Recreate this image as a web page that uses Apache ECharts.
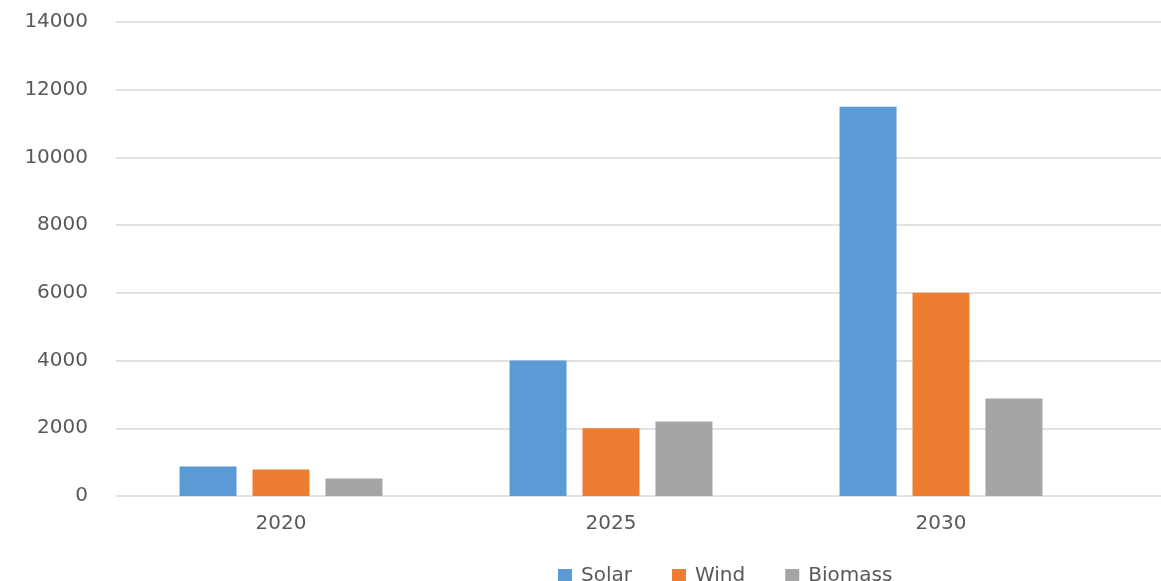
<!DOCTYPE html>
<html><head><meta charset="utf-8">
<script src="https://cdn.jsdelivr.net/npm/echarts@6/dist/echarts.min.js"></script>
<style>html,body{margin:0;padding:0;background:#fff}#c{width:1161px;height:581px}</style>
</head><body><div id="c"></div>
<script>
const categories = ['2020', '2025', '2030'];
const solar = [870, 4000, 11500];
const wind = [780, 2000, 6000];
const biomass = [520, 2200, 2880];
const seriesNames = ['Solar', 'Wind', 'Biomass'];

const chart = echarts.init(document.getElementById('c'));
const font = 'DejaVu Sans';
const txt = '#595959';
chart.setOption({
  animation: false,
  textStyle: { fontFamily: font },
  legend: {
    data: seriesNames, left: 553, top: 561, itemWidth: 14, itemHeight: 14, itemGap: 40,
    icon: 'rect', textStyle: { fontSize: 20, color: txt, fontFamily: font, padding: [0, 0, 0, 4] }
  },
  grid: [
    { left: 116, right: 0, top: 22, bottom: 85, containLabel: false },
    { left: 116, right: 55, top: 22, bottom: 85, containLabel: false }
  ],
  xAxis: [
    { type: 'category', gridIndex: 0, data: categories, show: false },
    { type: 'category', gridIndex: 1, data: categories,
      axisLine: { show: false }, axisTick: { show: false },
      axisLabel: { fontSize: 20, color: txt, margin: 18, fontFamily: font } }
  ],
  yAxis: [
    { type: 'value', gridIndex: 0, min: 0, max: 14000, interval: 2000,
      axisLine: { show: false }, axisTick: { show: false },
      axisLabel: { fontSize: 20, color: txt, margin: 28, fontFamily: font, formatter: v => String(v) },
      splitLine: { lineStyle: { color: '#d9d9d9', width: 1.5 } } },
    { type: 'value', gridIndex: 1, min: 0, max: 14000, interval: 2000, show: false,
      splitLine: { show: false } }
  ],
  series: [
    { name: 'Solar', type: 'bar', xAxisIndex: 1, yAxisIndex: 1, data: solar, barWidth: 57, barGap: '28%', itemStyle: { color: '#5b9bd5' } },
    { name: 'Wind', type: 'bar', xAxisIndex: 1, yAxisIndex: 1, data: wind, barWidth: 57, barGap: '28%', itemStyle: { color: '#ed7d31' } },
    { name: 'Biomass', type: 'bar', xAxisIndex: 1, yAxisIndex: 1, data: biomass, barWidth: 57, barGap: '28%', itemStyle: { color: '#a5a5a5' } }
  ]
});
</script></body></html>
